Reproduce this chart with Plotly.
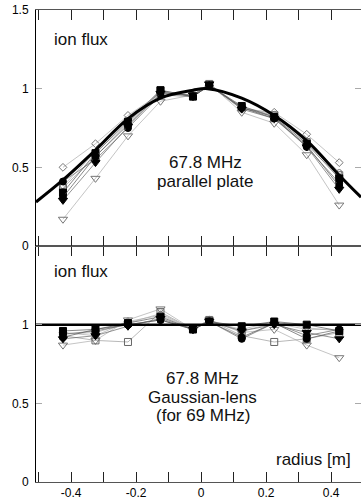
import plotly.graph_objects as go

# radial positions of the probes [m]
radius = [-0.425, -0.325, -0.225, -0.125, -0.025, 0.025, 0.125, 0.225, 0.325, 0.425]

# top panel: 67.8 MHz parallel plate (normalised ion flux)
pp_diamond_open = [0.50, 0.65, 0.83, 0.97, 0.96, 1.02, 0.87, 0.85, 0.71, 0.53]
pp_tri_open = [0.17, 0.43, 0.70, 0.92, 0.96, 1.03, 0.85, 0.78, 0.58, 0.26]
pp_square_open = [0.37, 0.57, 0.78, 0.99, 0.95, 1.03, 0.88, 0.83, 0.66, 0.45]
pp_circle_open = [0.38, 0.60, 0.80, 0.98, 0.96, 1.02, 0.88, 0.84, 0.67, 0.47]
pp_circle = [0.41, 0.55, 0.75, 0.96, 0.95, 1.02, 0.88, 0.82, 0.63, 0.40]
pp_square = [0.34, 0.59, 0.79, 0.99, 0.95, 1.02, 0.89, 0.82, 0.65, 0.43]
pp_tri = [0.29, 0.53, 0.76, 0.97, 0.96, 1.03, 0.87, 0.81, 0.63, 0.36]
pp_circle2 = [0.31, 0.57, 0.77, 0.98, 0.95, 1.02, 0.88, 0.81, 0.64, 0.38]

# smooth reference curve (top panel)
curve_r = [-0.508, -0.425, -0.325, -0.225, -0.125, -0.025, 0.02, 0.125, 0.225, 0.325, 0.425, 0.492]
curve_v = [0.28, 0.42, 0.61, 0.81, 0.94, 0.99, 1.0, 0.94, 0.83, 0.67, 0.45, 0.31]

# bottom panel: 67.8 MHz Gaussian-lens (for 69 MHz)
gl_diamond_open = [0.95, 0.93, 1.02, 1.06, 0.97, 1.03, 0.96, 1.01, 0.97, 0.97]
gl_tri_open = [0.87, 0.90, 1.03, 1.10, 0.97, 1.03, 0.95, 0.97, 0.87, 0.79]
gl_square_open = [0.93, 0.90, 0.89, 1.08, 0.97, 1.03, 0.93, 0.89, 0.91, 0.95]
gl_circle_open = [0.94, 0.95, 1.01, 1.07, 0.97, 1.02, 0.97, 1.02, 0.98, 0.96]
gl_circle = [0.94, 0.96, 1.00, 1.03, 0.97, 1.02, 0.91, 1.01, 0.93, 0.97]
gl_square = [0.96, 0.97, 1.01, 1.05, 0.97, 1.02, 0.99, 1.02, 1.00, 0.96]
gl_tri = [0.91, 0.93, 0.99, 1.04, 0.97, 1.02, 0.96, 1.00, 0.95, 0.91]
gl_circle2 = [0.92, 0.97, 1.00, 1.03, 0.97, 1.02, 0.92, 1.01, 0.91, 0.96]

flat_r = [-0.508, 0.492]
flat_v = [1.0, 1.0]

x_ticks = [-0.5, -0.4, -0.3, -0.2, -0.1, 0.0, 0.1, 0.2, 0.3, 0.4]
x_ticktext = ["", "-0.4", "", "-0.2", "", "0", "", "0.2", "", "0.4"]

styles = [
    ("diamond-open", 6, "#777", "#aaa"),
    ("triangle-down-open", 8, "#777", "#aaa"),
    ("square-open", 7, "#666", "#999"),
    ("circle-open", 5, "#777", "#aaa"),
    ("circle", 7, "black", "#666"),
    ("square", 7, "black", "#555"),
    ("triangle-down", 8, "black", "#666"),
    ("circle", 7, "black", "#555"),
]

top_series = [pp_diamond_open, pp_tri_open, pp_square_open, pp_circle_open,
              pp_circle, pp_square, pp_tri, pp_circle2]
bot_series = [gl_diamond_open, gl_tri_open, gl_square_open, gl_circle_open,
              gl_circle, gl_square, gl_tri, gl_circle2]

fig = go.Figure()
for vals, (sym, size, mcol, lcol) in zip(top_series, styles):
    fig.add_trace(go.Scatter(x=radius, y=vals, xaxis="x2", yaxis="y2", mode="lines+markers",
                             line=dict(color=lcol, width=0.7),
                             marker=dict(symbol=sym, size=size, color=mcol,
                                         line=dict(color=mcol, width=1)),
                             showlegend=False))
for vals, (sym, size, mcol, lcol) in zip(bot_series, styles):
    fig.add_trace(go.Scatter(x=radius, y=vals, xaxis="x", yaxis="y", mode="lines+markers",
                             line=dict(color=lcol, width=0.7),
                             marker=dict(symbol=sym, size=size, color=mcol,
                                         line=dict(color=mcol, width=1)),
                             showlegend=False))

fig.add_trace(go.Scatter(x=curve_r, y=curve_v, xaxis="x2", yaxis="y2", mode="lines",
                         line=dict(color="black", width=3, shape="spline", smoothing=1.0),
                         showlegend=False))
fig.add_trace(go.Scatter(x=flat_r, y=flat_v, xaxis="x", yaxis="y", mode="lines",
                         line=dict(color="black", width=2.5), showlegend=False))

font_t = dict(family="Liberation Sans, Arial, sans-serif", size=12, color="black")
xcommon = dict(range=[-0.508, 0.492], tickmode="array", tickvals=x_ticks,
               ticks="inside", ticklen=10, tickcolor="#222", tickwidth=1,
               showline=True, linecolor="#555", linewidth=1, mirror="ticks",
               showgrid=False, zeroline=False, tickfont=font_t)
ycommon = dict(range=[0, 1.5], ticks="inside", ticklen=6, tickcolor="#aaa",
               showline=True, linecolor="black", linewidth=1, mirror=False,
               showgrid=False, zeroline=False, tickfont=font_t, ticklabelstandoff=4)

fig.update_layout(
    width=361, height=501,
    margin=dict(l=36, r=0, t=10, b=19, autoexpand=False),
    paper_bgcolor="white", plot_bgcolor="white",
    xaxis=dict(xcommon, anchor="y", ticktext=x_ticktext),
    xaxis2=dict(xcommon, anchor="y2", matches="x", showticklabels=False),
    yaxis=dict(ycommon, domain=[0, 0.5], tickvals=[0, 0.5, 1], ticktext=["0", "0.5", "1"], anchor="x"),
    yaxis2=dict(ycommon, domain=[0.5, 1], tickvals=[0, 0.5, 1, 1.5], ticktext=["0", "0.5", "1", "1.5"], anchor="x2"),
    yaxis3=dict(range=[0, 1.5], overlaying="y", side="right", anchor="x", ticks="inside", ticklen=6,
                tickcolor="#aaa", tickvals=[0.5, 1], showticklabels=False, showline=False,
                showgrid=False, zeroline=False),
    yaxis4=dict(range=[0, 1.5], overlaying="y2", side="right", anchor="x2", ticks="inside", ticklen=6,
                tickcolor="#aaa", tickvals=[0.5, 1], showticklabels=False, showline=False,
                showgrid=False, zeroline=False),
)

fig.add_trace(go.Scatter(x=[None], y=[None], xaxis="x", yaxis="y3", showlegend=False))
fig.add_trace(go.Scatter(x=[None], y=[None], xaxis="x2", yaxis="y4", showlegend=False))

afont = dict(family="Liberation Sans, Arial, sans-serif", size=17, color="#111")
ann = [
    ("ion flux", -0.458, 1.31, "x2", "y2", "left"),
    ("67.8 MHz", 0.012, 0.53, "x2", "y2", "center"),
    ("parallel plate", 0.012, 0.41, "x2", "y2", "center"),
    ("ion flux", -0.458, 1.34, "x", "y", "left"),
    ("67.8 MHz", 0.005, 0.66, "x", "y", "center"),
    ("Gaussian-lens", 0.005, 0.54, "x", "y", "center"),
    ("(for 69 MHz)", 0.005, 0.42, "x", "y", "center"),
    ("radius [m]", 0.466, 0.14, "x", "y", "right"),
]
for text, xx, yy, xr, yr, xa in ann:
    fig.add_annotation(text=text, x=xx, y=yy, xref=xr, yref=yr, xanchor=xa, yanchor="middle",
                       showarrow=False, font=afont)

fig.write_html("out.html", config={"displayModeBar": False},
               post_script="document.body.style.margin='0';document.body.style.overflow='hidden';")
